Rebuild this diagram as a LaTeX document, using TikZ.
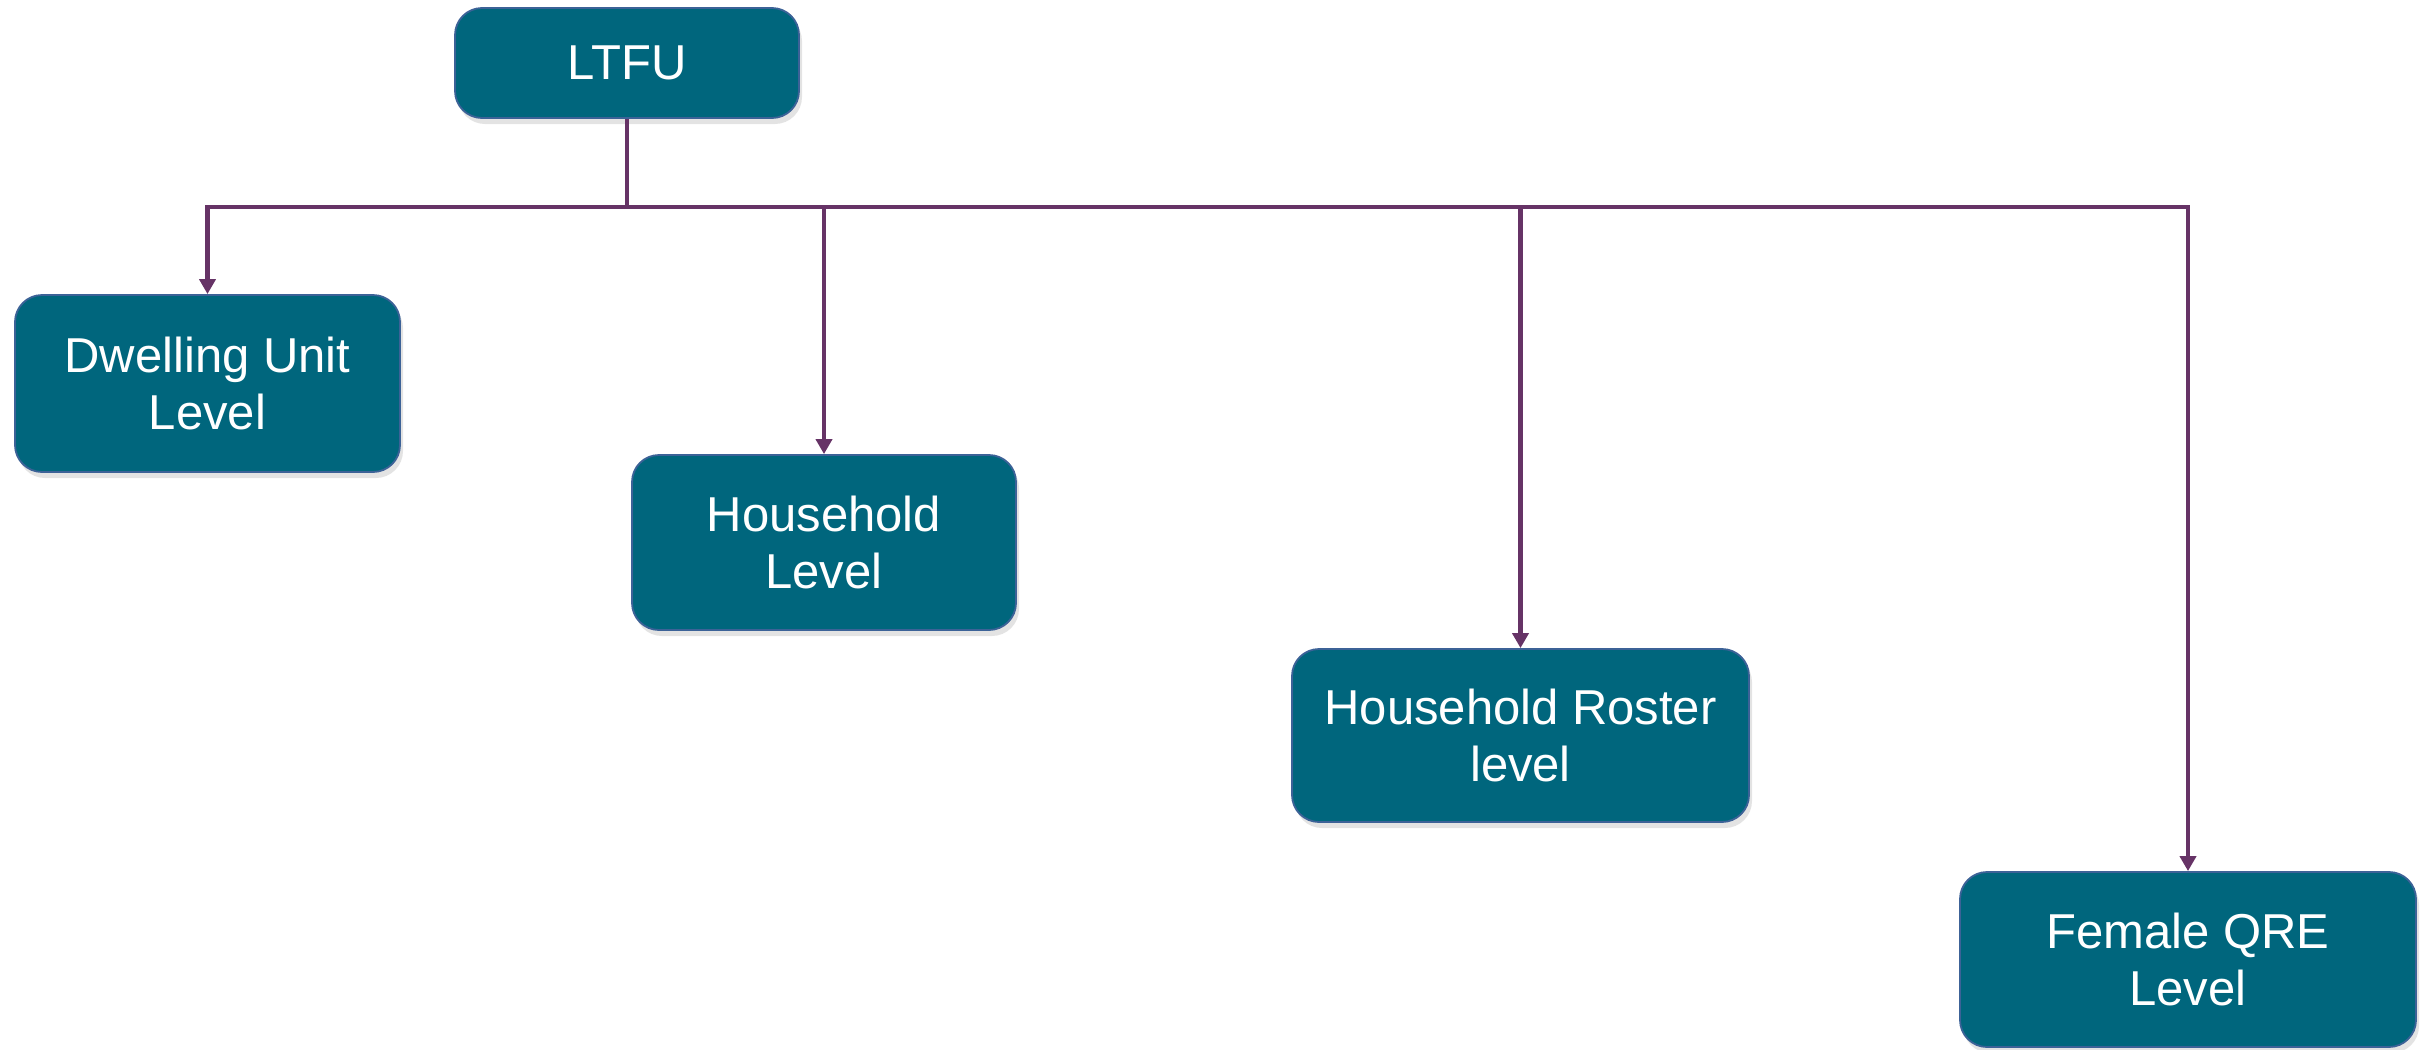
\documentclass[tikz,border=0pt]{standalone}
\usepackage{fontspec}
\setmainfont{Liberation Sans}
\usetikzlibrary{arrows.meta,shadows}
\definecolor{boxfill}{HTML}{00667D}
\definecolor{boxedge}{HTML}{3C6297}
\definecolor{conncol}{HTML}{663366}
\tikzset{
  lvl/.style={rectangle, rounded corners=13.5pt, fill=boxfill, draw=boxedge, line width=0.9pt,
    text=white, align=center, inner sep=0pt,
    font=\fontsize{24.5}{28.5}\selectfont,
    drop shadow={opacity=0.22, shadow xshift=1.5pt, shadow yshift=-3pt}},
  conn/.style={draw=conncol, line width=2.4pt},
  arr/.style={conn, -{Triangle[width=8pt,length=7.5pt]}}
}
\begin{document}
\begin{tikzpicture}[x=0.5pt,y=-0.5pt]
\useasboundingbox (0,0) rectangle (2433,1050);
\node[lvl, minimum width=172pt, minimum height=55pt] (ltfu) at (627,63) {LTFU};
\node[lvl, minimum width=192.5pt, minimum height=88.5pt] (dwell) at (207.5,383.5) {Dwelling Unit\\Level};
\node[lvl, minimum width=192pt, minimum height=87.5pt] (house) at (824,542.5) {Household\\Level};
\node[lvl, minimum width=228.5pt, minimum height=86.5pt] (roster) at (1520.5,735.5) {Household Roster\\level};
\node[lvl, minimum width=228pt, minimum height=87.5pt] (female) at (2188,959.5) {Female QRE\\Level};
\coordinate (bus) at (0,207);
\draw[conn] (ltfu.south) -- (ltfu.south |- bus);
\draw[arr] (house.north |- bus) -| (dwell.north);
\draw[conn] (house.north |- bus) -- (roster.north |- bus);
\draw[arr] (roster.north |- bus) -| (female.north);
\draw[arr] (house.north |- bus) -- (house.north);
\draw[arr] (roster.north |- bus) -- (roster.north);
\end{tikzpicture}
\end{document}
